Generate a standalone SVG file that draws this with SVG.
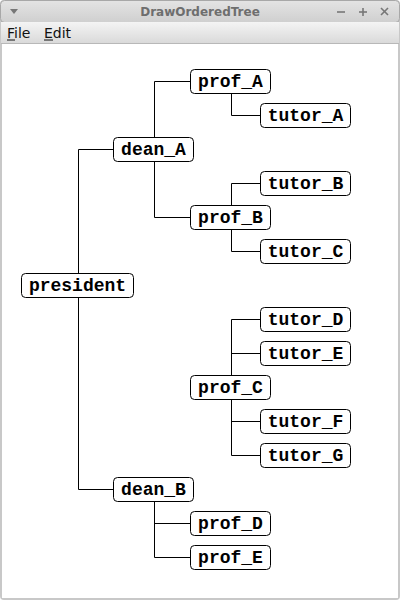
<svg xmlns="http://www.w3.org/2000/svg" width="400" height="600" viewBox="0 0 400 600">
<defs>
<linearGradient id="tb" x1="0" y1="0" x2="0" y2="1"><stop offset="0" stop-color="#e4e4e4"/><stop offset="1" stop-color="#cfcfcf"/></linearGradient>
<linearGradient id="mb" x1="0" y1="0" x2="0" y2="1"><stop offset="0" stop-color="#f4f4f4"/><stop offset="1" stop-color="#dadada"/></linearGradient>
</defs>
<style>
.box{fill:#fff;stroke:#000;stroke-width:1}
.lbl{font-family:"Liberation Mono","Courier New",monospace;font-weight:bold;font-size:18px;text-anchor:middle;fill:#000}
.ln{fill:none;stroke:#000;stroke-width:1}
.menu{font-family:"DejaVu Sans","Noto Sans",sans-serif;font-size:14px;fill:#111}
</style>
<g id="window">
<rect x="0" y="0" width="400" height="600" rx="4" fill="#c8c8c8"/>
<rect x="0.5" y="0.5" width="399" height="22" rx="4" fill="url(#tb)" stroke="#a8a8a8"/>
<rect x="1" y="22" width="398" height="21" fill="url(#mb)"/>
<line x1="1" y1="43.5" x2="399" y2="43.5" stroke="#b8b8b8"/>
<rect x="2" y="44" width="396" height="554" fill="#fff"/>
<path d="M10 9 L18 9 L14 14 Z" fill="#777"/>
<text x="200" y="16" font-family="'DejaVu Sans','Noto Sans',sans-serif" font-size="12" font-weight="bold" fill="#6e6e6e" text-anchor="middle">DrawOrderedTree</text>
<g stroke="#777" stroke-width="1.6">
<line x1="337" y1="12" x2="345" y2="12"/>
<line x1="359" y1="12" x2="367" y2="12"/><line x1="363" y1="8" x2="363" y2="16"/>
<line x1="381" y1="8" x2="388" y2="15"/><line x1="388" y1="8" x2="381" y2="15"/>
</g>
<text class="menu" x="7" y="38">File</text>
<line x1="7" y1="40" x2="15" y2="40" stroke="#111"/>
<text class="menu" x="44" y="38">Edit</text>
<line x1="44" y1="40" x2="53" y2="40" stroke="#111"/>
</g>
<g id="connectors">
<path class="ln" d="M78.5 273 V149.5 H113 M78.5 297 V489.5 H113"/>
<path class="ln" d="M154.5 137 V81.5 H190 M154.5 161 V217.5 H190"/>
<path class="ln" d="M231.5 93 V115.5 H260"/>
<path class="ln" d="M231.5 205 V183.5 H260 M231.5 229 V251.5 H260"/>
<path class="ln" d="M231.5 375 V319.5 H260 M231.5 353.5 H260 M231.5 399 V455.5 H260 M231.5 421.5 H260"/>
<path class="ln" d="M154.5 501 V557.5 H190 M154.5 523.5 H190"/>
</g>
<g id="president"><rect class="box" x="21.5" y="273.5" width="112" height="24" rx="4"/><text class="lbl" x="77.5" y="291">president</text></g>
<g id="dean_A"><rect class="box" x="113.5" y="137.5" width="80" height="24" rx="4"/><text class="lbl" x="153.5" y="155">dean_A</text></g>
<g id="dean_B"><rect class="box" x="113.5" y="477.5" width="80" height="24" rx="4"/><text class="lbl" x="153.5" y="495">dean_B</text></g>
<g id="prof_A"><rect class="box" x="190.5" y="69.5" width="80" height="24" rx="4"/><text class="lbl" x="230.5" y="87">prof_A</text></g>
<g id="prof_B"><rect class="box" x="190.5" y="205.5" width="80" height="24" rx="4"/><text class="lbl" x="230.5" y="223">prof_B</text></g>
<g id="prof_C"><rect class="box" x="190.5" y="375.5" width="80" height="24" rx="4"/><text class="lbl" x="230.5" y="393">prof_C</text></g>
<g id="prof_D"><rect class="box" x="190.5" y="511.5" width="80" height="24" rx="4"/><text class="lbl" x="230.5" y="529">prof_D</text></g>
<g id="prof_E"><rect class="box" x="190.5" y="545.5" width="80" height="24" rx="4"/><text class="lbl" x="230.5" y="563">prof_E</text></g>
<g id="tutor_A"><rect class="box" x="260.5" y="103.5" width="90" height="24" rx="4"/><text class="lbl" x="305.5" y="121">tutor_A</text></g>
<g id="tutor_B"><rect class="box" x="260.5" y="171.5" width="90" height="24" rx="4"/><text class="lbl" x="305.5" y="189">tutor_B</text></g>
<g id="tutor_C"><rect class="box" x="260.5" y="239.5" width="90" height="24" rx="4"/><text class="lbl" x="305.5" y="257">tutor_C</text></g>
<g id="tutor_D"><rect class="box" x="260.5" y="307.5" width="90" height="24" rx="4"/><text class="lbl" x="305.5" y="325">tutor_D</text></g>
<g id="tutor_E"><rect class="box" x="260.5" y="341.5" width="90" height="24" rx="4"/><text class="lbl" x="305.5" y="359">tutor_E</text></g>
<g id="tutor_F"><rect class="box" x="260.5" y="409.5" width="90" height="24" rx="4"/><text class="lbl" x="305.5" y="427">tutor_F</text></g>
<g id="tutor_G"><rect class="box" x="260.5" y="443.5" width="90" height="24" rx="4"/><text class="lbl" x="305.5" y="461">tutor_G</text></g>
</svg>
